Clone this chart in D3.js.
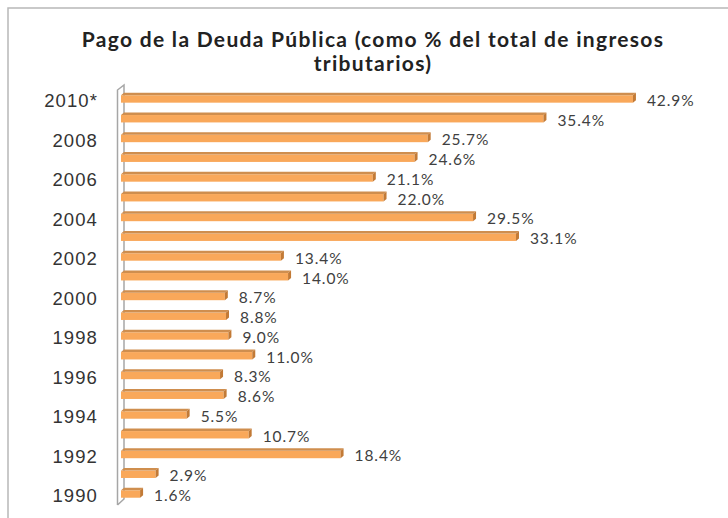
<!DOCTYPE html>
<html>
<head>
<meta charset="utf-8">
<script src="https://cdnjs.cloudflare.com/ajax/libs/d3/7.8.5/d3.min.js"></script>
<style>
  body { margin: 0; background: #fff; }
  svg { display: block; font-family: Lato, "Open Sans", sans-serif; }
  .year text { fill: #333; font-size: 18.5px; letter-spacing: 1.1px; }
  .val { fill: #404040; font-size: 15.5px; letter-spacing: 0.9px; }
  .title { font-weight: bold; font-size: 21px; letter-spacing: 1.3px; fill: #222; }
</style>
</head>
<body>
<svg width="728" height="518"></svg>
<script>
// chart data, top bar first
var years = ['2010*', '2009', '2008', '2007', '2006', '2005', '2004', '2003', '2002', '2001', '2000',
             '1999', '1998', '1997', '1996', '1995', '1994', '1993', '1992', '1991', '1990'];
var values = [42.9, 35.4, 25.7, 24.6, 21.1, 22.0, 29.5, 33.1, 13.4, 14.0, 8.7,
              8.8, 9.0, 11.0, 8.3, 8.6, 5.5, 10.7, 18.4, 2.9, 1.6];
var titleLines = ['Pago de la Deuda Pública (como % del total de ingresos', 'tributarios)'];

var data = years.map(function(y, i) { return {year: y, value: values[i]}; });

var svg = d3.select('svg');

// outer chart frame (runs off the right and bottom edge)
svg.append('rect')
    .attr('x', 8).attr('y', 8)
    .attr('width', 740).attr('height', 530)
    .attr('fill', 'none')
    .attr('stroke', '#b8b8b8')
    .attr('stroke-width', 1.5);

// title
svg.append('text')
    .attr('class', 'title')
    .attr('text-anchor', 'middle')
    .selectAll('tspan')
    .data(titleLines)
    .enter().append('tspan')
    .attr('x', 373)
    .attr('y', function(d, i) { return 47 + i * 24; })
    .text(function(d) { return d; });

var xScale = d3.scaleLinear().domain([0, 45]).range([121, 658]);
var yScale = d3.scaleBand().domain(years).range([87.6, 502.4]);

var dx = 3, dy = 2.5;   // depth of the 3d effect

// 3d axis wall
var wall = svg.append('g').attr('stroke', '#a6a6a6').attr('stroke-width', 1.5).attr('fill', 'none');
wall.append('path')
    .attr('d', 'M117.5,505 L117.5,90 L124,85 L124,499 L117.5,505');

// bars
var bar = svg.selectAll('.bar')
    .data(data)
    .enter().append('g')
    .attr('class', 'bar');

function c(d) { return yScale(d.year) + yScale.bandwidth() / 2; }

bar.append('rect')
    .attr('x', xScale(0))
    .attr('y', function(d) { return c(d) - 2.2; })
    .attr('width', function(d) { return xScale(d.value) - xScale(0); })
    .attr('height', 7.4)
    .attr('fill', '#f9a85a');

// top face
bar.append('path')
    .attr('fill', '#cf8e4e')
    .attr('d', function(d) {
        var x0 = xScale(0), x1 = xScale(d.value), y0 = c(d) - 2.2;
        return 'M' + x0 + ',' + y0 + 'L' + x1 + ',' + y0 + 'L' + (x1 + dx) + ',' + (y0 - dy) +
               'L' + (x0 + dx) + ',' + (y0 - dy) + 'Z';
    });

// right end face
bar.append('path')
    .attr('fill', '#c27a36')
    .attr('d', function(d) {
        var x1 = xScale(d.value), y0 = c(d) - 2.2, y1 = y0 + 7.4;
        return 'M' + x1 + ',' + y0 + 'L' + (x1 + dx) + ',' + (y0 - dy) + 'L' + (x1 + dx) + ',' + (y1 - dy) +
               'L' + x1 + ',' + y1 + 'Z';
    });

// value labels
bar.append('text')
    .attr('class', 'val')
    .attr('x', function(d) { return xScale(d.value) + 14; })
    .attr('y', function(d) { return c(d) + 3; })
    .attr('dy', '0.35em')
    .text(function(d) { return d3.format('.1f')(d.value) + '%'; });

// year labels, every other one
var yAxis = d3.axisLeft(yScale)
    .tickValues(years.filter(function(d, i) { return i % 2 === 0; }))
    .tickSize(0)
    .tickPadding(0);

svg.append('g')
    .attr('class', 'year')
    .attr('transform', 'translate(98,4)')
    .call(yAxis)
    .call(function(g) { g.select('.domain').remove(); })
    .selectAll('text')
    .attr('font-family', null)
    .attr('font-size', null);
</script>
</body>
</html>
